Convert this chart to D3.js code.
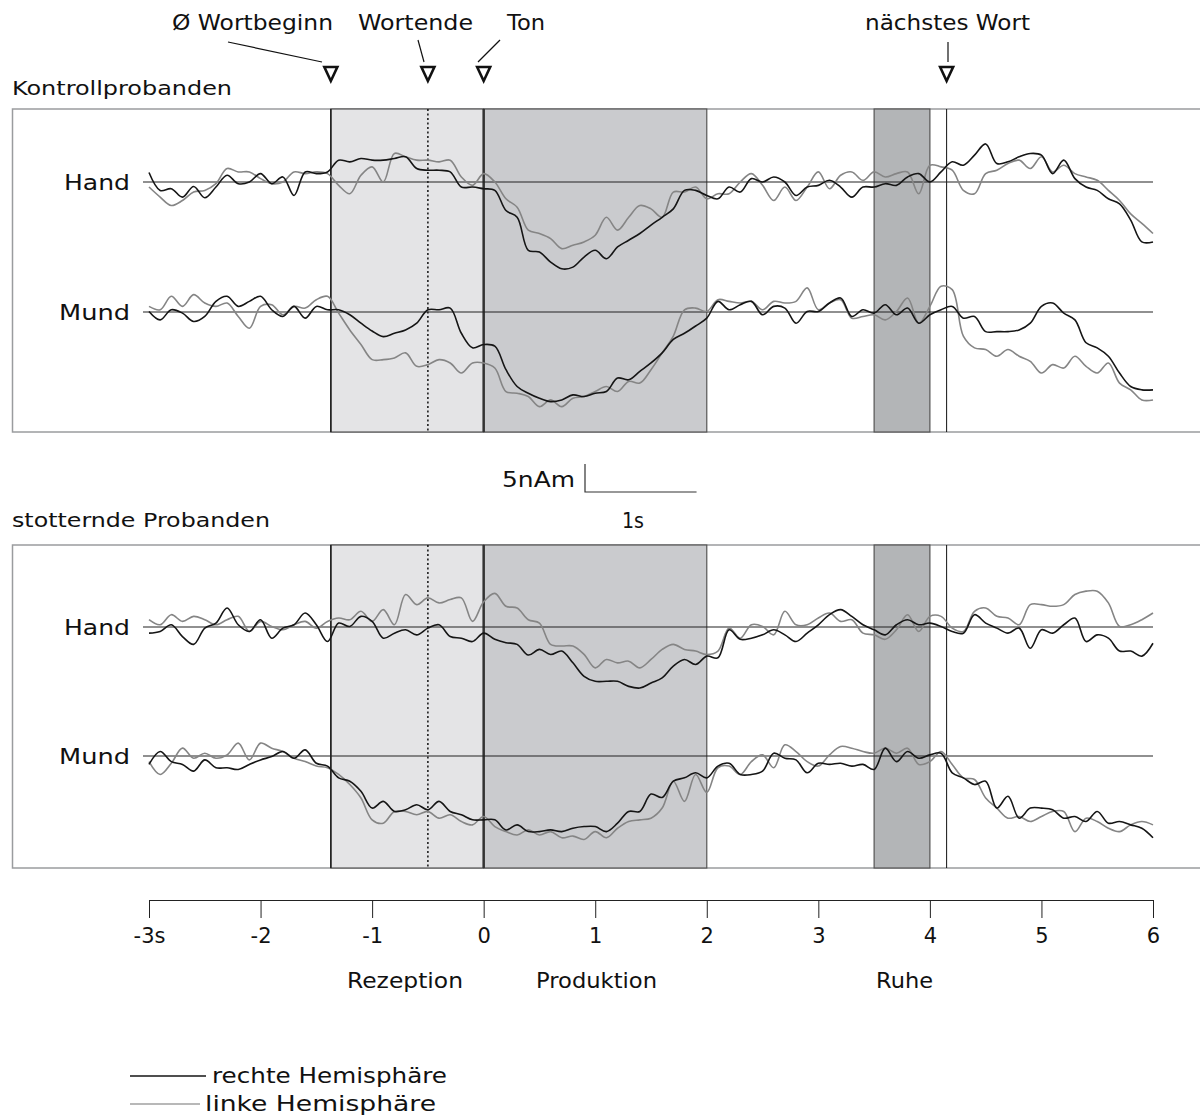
<!DOCTYPE html>
<html>
<head>
<meta charset="utf-8">
<script src="https://cdn.jsdelivr.net/npm/d3@7"></script>
<style>
  body { margin: 0; background: #fff; }
  text { font-family: "DejaVu Sans", sans-serif; fill: #111; }
</style>
</head>
<body>
<div id="chart"></div>
<script>
// sampled every 0.1 s from -3 s to 6 s, values in nAm relative to baseline
var kHandRight = [1.7,-1.5,-1.2,-2.7,-0.8,-2.8,-0.9,1.2,-0.3,0,1.5,-0.3,0.9,-2.4,1.8,1.5,1.8,3.9,3.6,4.2,3.9,3.9,4.2,4.5,2.4,2.1,2.1,1.8,-0.9,-0.9,
  -1.2,-1.5,-5.1,-6.3,-12.2,-12.5,-14.3,-15.5,-15.2,-13.4,-12.2,-13.7,-11.6,-10.4,-9.2,-7.7,-6.3,-4.8,-1.5,-1.5,-2.4,-3.0,-0.9,-1.8,0.6,0,0.9,0,-2.4,-0.9,-0.6,0.3,-0.9,-2.7,
  -0.9,-0.9,-0.3,-0.6,0.9,1.5,0,1.8,3.6,3.0,4.8,6.8,3.3,3.6,4.5,5.1,4.8,1.5,3.9,0.6,-0.9,-1.5,-3.0,-3.9,-6.8,-10.7,-10.7];
var kHandLeft = [-0.9,-2.7,-4.2,-3.3,-1.8,-1.5,-0.3,2.4,1.8,1.8,0.6,-0.3,0,1.8,1.5,1.8,1.5,-0.6,-2.1,1.2,2.7,0,5.1,4.5,3.9,3.9,3.6,3.9,0.9,-0.6,
  1.5,0,-3.0,-4.5,-8.6,-9.2,-10.1,-11.9,-11.3,-10.7,-9.5,-6.3,-8.6,-6.3,-4.2,-4.8,-6.3,-1.8,-1.8,-0.9,-3.0,-2.1,-2.1,0,1.5,-0.6,-3.3,-0.9,-3.3,-0.9,1.8,-1.2,1.2,1.8,
  0.3,1.8,0.9,1.5,1.8,-2.1,3.0,2.7,2.1,-1.5,-2.1,1.5,2.1,3.3,3.9,2.4,4.5,1.8,3.0,1.5,0.9,0.3,-1.5,-3.3,-5.7,-7.4,-9.2];
var kMundRight = [0.1,-1.4,0.4,-0.2,-1.7,-0.8,1.9,2.8,1.0,1.9,2.8,0.4,-0.8,1.0,-1.1,1.0,0.4,0.4,-0.5,-2.0,-3.4,-4.4,-3.8,-3.2,-2.0,0.4,0.4,0.7,-3.8,-6.4,
  -5.8,-6.1,-10.3,-13.3,-14.5,-15.4,-16.0,-15.7,-14.8,-15.1,-14.5,-14.2,-11.8,-12.1,-10.6,-9.1,-7.3,-4.9,-3.8,-2.5,-1.1,1.9,0.4,1.3,1.9,-0.5,1.0,0.7,-2.0,0.1,0.1,1.6,2.5,-0.8,
  0.4,-0.2,1.3,-0.5,0.7,-2.0,-0.5,0.4,1.0,-1.1,-0.8,-3.5,-3.5,-3.5,-3.2,-2.0,1.0,1.6,-0.2,-1.4,-5.5,-6.4,-7.9,-10.9,-13.3,-13.9,-13.9];
var kMundLeft = [1.0,0.4,2.8,1.0,3.1,1.6,1.0,1.6,-0.8,-2.9,1.0,1.3,-0.5,1.0,0.7,2.2,2.8,-0.2,-3.2,-5.8,-8.5,-8.5,-8.2,-7.3,-9.7,-9.4,-8.5,-9.1,-10.9,-9.1,
  -9.1,-10.0,-14.2,-14.5,-15.1,-16.9,-15.7,-16.9,-15.4,-15.1,-14.2,-13.3,-14.2,-12.4,-12.7,-10.3,-7.3,-4.3,0.4,0.7,0.1,2.2,1.9,1.6,1.9,0.4,1.9,1.6,1.9,4.3,0.4,1.6,2.2,-1.1,
  -0.8,-0.5,-1.4,0.1,2.5,-2.0,1.0,4.6,4.0,-4.3,-6.4,-6.7,-7.9,-6.7,-7.9,-8.8,-10.9,-9.4,-10.0,-7.9,-9.7,-10.9,-9.1,-12.7,-13.9,-15.7,-15.7];

var sHandRight = [-1.1,-0.8,0.4,-1.7,-3.1,-0.2,0.7,3.4,0.4,-0.8,1.3,-2.0,-0.2,0.4,2.5,0.4,-2.6,0.7,0.1,1.9,1.0,-2.0,-1.1,-0.5,-1.4,-0.2,0.4,-1.7,-2.0,-2.6,
  -1.1,-2.2,-2.8,-3.1,-5.0,-4.0,-4.9,-4.3,-6.4,-8.8,-9.7,-9.7,-9.7,-10.6,-10.9,-10.0,-9.1,-7.0,-5.8,-6.7,-5.2,-5.5,-0.5,-2.2,-2.0,-1.4,-0.5,-1.4,-2.6,-1.1,0.4,2.2,3.1,1.9,
  0.4,-0.5,-1.4,0.4,1.3,0.4,0.7,0.1,-0.8,-1.1,2.2,0.7,-0.2,-1.1,-0.2,-3.8,-0.5,-1.1,0.4,1.6,-2.6,-1.4,-2.0,-4.3,-4.3,-5.2,-2.9];
var sHandLeft = [1.3,0.4,2.2,1.0,1.9,1.3,0.4,1.3,1.9,-0.8,1.0,0.1,-0.5,0.4,1.0,-0.2,1.0,1.6,1.3,2.8,1.0,3.1,0.4,5.8,4.0,5.2,4.3,4.9,5.2,1.0,
  4.5,6.0,3.7,3.4,1.3,0.7,-3.1,-3.4,-3.4,-4.9,-7.3,-5.8,-6.4,-6.1,-7.3,-5.8,-4.0,-3.1,-4.0,-4.3,-4.9,-4.3,-0.2,-2.0,0.4,0.1,-1.4,2.8,0.4,0.4,1.6,2.5,1.0,1.3,
  -1.1,-1.4,-2.2,-0.5,2.2,-0.8,1.9,1.9,-0.2,-0.8,2.8,3.4,1.9,1.6,0.4,4.0,4.0,3.7,4.0,5.8,6.4,6.4,4.3,0.1,0.4,1.3,2.5];
var sMundRight = [-1.5,0.8,-1.0,-1.5,-2.7,-0.7,-2.1,-2.1,-2.4,-1.5,-0.7,-0.1,0.8,-0.4,1.1,-1.3,-1.8,-3.9,-4.5,-6.3,-9.3,-8.1,-9.9,-9.6,-8.7,-9.6,-8.1,-9.9,-10.5,-11.4,
  -11.4,-11.4,-13.2,-12.3,-13.5,-13.5,-13.2,-13.5,-12.9,-12.6,-12.6,-13.5,-12.0,-9.9,-9.9,-6.8,-7.4,-4.5,-3.9,-3.0,-3.9,-1.8,-1.3,-3.3,-3.3,-2.7,0.5,-0.4,-0.7,-3.0,-1.3,-1.5,-1.3,-1.8,
  -1.5,-2.4,1.4,-1.0,0.8,-0.4,0.2,0.5,-3.0,-3.9,-5.1,-4.5,-9.3,-7.2,-11.1,-9.3,-9.3,-9.6,-11.1,-10.8,-11.7,-9.9,-12.0,-11.7,-12.3,-12.9,-14.6];
var sMundLeft = [-1.0,-3.3,-1.3,1.4,-0.4,0.5,-0.4,0.2,2.3,-0.7,2.3,1.4,0.8,-0.4,-1.0,-1.8,-2.1,-3.3,-5.1,-7.5,-11.4,-12.0,-9.9,-9.9,-10.5,-9.9,-11.1,-10.5,-11.7,-12.3,
  -10.8,-12.6,-13.5,-14.1,-13.2,-14.1,-13.5,-14.6,-14.3,-14.9,-13.5,-14.6,-12.9,-11.7,-11.4,-11.1,-9.3,-4.5,-8.1,-3.3,-6.5,-2.1,-1.8,-3.3,-1.0,0.2,-2.1,2.0,0.8,-1.0,-1.8,0.2,1.7,1.4,
  0.8,0.5,1.4,0.5,1.4,-1.5,-1.0,0.8,-1.5,-3.9,-4.2,-7.5,-9.3,-11.1,-10.8,-11.7,-10.8,-9.9,-9.9,-13.5,-11.1,-11.7,-12.9,-13.5,-12.3,-11.7,-12.3];

var tickValues = [-3,-2,-1,0,1,2,3,4,5,6];
var tickLabels = ["-3s","-2","-1","0","1","2","3","4","5","6"];
var markerTimes = [-1.37, -0.5, 0, 4.15];
var markerLabels = ["Ø Wortbeginn", "Wortende", "Ton", "nächstes Wort"];
var phaseNames = ["Rezeption", "Produktion", "Ruhe"];
var phaseStart = [-1.37, 0, 3.5];
var phaseEnd = [0, 2, 4];
var phaseFill = ["#e4e4e6", "#cacbce", "#b3b5b7"];

var W = 1200, H = 1118;
var svg = d3.select("#chart").append("svg").attr("width", W).attr("height", H);
var x = d3.scaleLinear().domain([-3, 6]).range([149, 1153]);
var pxPerNAm = 5.6;

// the original typeface is a wide geometric one, stretch text to its width
function label(tx, ty, str, w, anchor, size) {
  var t = svg.append("text").attr("x", tx).attr("y", ty).attr("font-size", size || 21)
    .attr("text-anchor", anchor || "start").text(str);
  if (w) t.attr("textLength", w).attr("lengthAdjust", "spacingAndGlyphs");
  return t;
}

var panels = [
  {title: "Kontrollprobanden", tw: 220, top: 109, bottom: 432, titleY: 95,
   rows: [{label: "Hand", base: 182, right: kHandRight, left: kHandLeft},
          {label: "Mund", base: 312, right: kMundRight, left: kMundLeft}]},
  {title: "stotternde Probanden", tw: 258, top: 545, bottom: 868, titleY: 527,
   rows: [{label: "Hand", base: 627, right: sHandRight, left: sHandLeft},
          {label: "Mund", base: 756, right: sMundRight, left: sMundLeft}]}
];

panels.forEach(function(p) {
  var g = svg.append("g");
  g.append("rect").attr("x", 12.5).attr("y", p.top).attr("width", 1190).attr("height", p.bottom - p.top)
    .attr("fill", "none").attr("stroke", "#9a9c9e").attr("stroke-width", 1.5);

  phaseNames.forEach(function(n, i) {
    g.append("rect").attr("x", x(phaseStart[i])).attr("y", p.top)
      .attr("width", x(phaseEnd[i]) - x(phaseStart[i])).attr("height", p.bottom - p.top)
      .attr("fill", phaseFill[i]).attr("stroke", "#555").attr("stroke-width", 1.2);
  });
  g.append("line").attr("x1", x(-1.37)).attr("x2", x(-1.37)).attr("y1", p.top).attr("y2", p.bottom)
    .attr("stroke", "#222").attr("stroke-width", 1.6);
  g.append("line").attr("x1", x(0)).attr("x2", x(0)).attr("y1", p.top).attr("y2", p.bottom)
    .attr("stroke", "#333").attr("stroke-width", 2.5);
  g.append("line").attr("x1", x(-0.5)).attr("x2", x(-0.5)).attr("y1", p.top).attr("y2", p.bottom)
    .attr("stroke", "#111").attr("stroke-width", 1.5).attr("stroke-dasharray", "2,2.5");
  g.append("line").attr("x1", x(4.15)).attr("x2", x(4.15)).attr("y1", p.top).attr("y2", p.bottom)
    .attr("stroke", "#111").attr("stroke-width", 1);

  label(12, p.titleY, p.title, p.tw, "start", 20);

  p.rows.forEach(function(r) {
    var y = d3.scaleLinear().domain([0, 5]).range([r.base, r.base - 5 * pxPerNAm]);
    var line = d3.line().x(function(d, i) { return x(-3 + i * 0.1); }).y(function(d) { return y(d); })
      .curve(d3.curveCatmullRom.alpha(0.5));
    g.append("line").attr("x1", 143).attr("x2", 1153).attr("y1", y(0)).attr("y2", y(0))
      .attr("stroke", "#222").attr("stroke-width", 1.2);
    g.append("path").datum(r.left).attr("d", line).attr("fill", "none")
      .attr("stroke", "#858585").attr("stroke-width", 1.6);
    g.append("path").datum(r.right).attr("d", line).attr("fill", "none")
      .attr("stroke", "#151515").attr("stroke-width", 1.6);
    label(130, r.base + 8, r.label, r.label == "Hand" ? 66 : 71, "end", 22);
  });
});

// top event markers
var labelX = [172, 358, 507, 865];
var labelW = [161, 115, 38, 165];
var leaders = [[228, 42, 322, 62], [418, 40, 424, 62], [500, 40, 478, 62], [948, 42, 948, 62]];
markerTimes.forEach(function(t, i) {
  var cx = x(t);
  svg.append("path").attr("d", "M" + (cx - 6.5) + ",67 L" + (cx + 6.5) + ",67 L" + cx + ",81 Z")
    .attr("fill", "#fff").attr("stroke", "#111").attr("stroke-width", 2.6).attr("stroke-linejoin", "miter");
  var l = leaders[i];
  svg.append("line").attr("x1", l[0]).attr("y1", l[1]).attr("x2", l[2]).attr("y2", l[3])
    .attr("stroke", "#111").attr("stroke-width", 1.2);
  label(labelX[i], 30, markerLabels[i], labelW[i], "start", 21);
});

// scale bar
label(575, 487, "5nAm", 73, "end", 21);
svg.append("path")
  .attr("d", "M" + x(0) + "," + (492 - 5 * pxPerNAm) + " L" + x(0) + ",492 L" + x(1) + ",492")
  .attr("transform", "translate(" + (585 - x(0)) + ",0)")
  .attr("fill", "none").attr("stroke", "#333").attr("stroke-width", 1.2);
label(633, 528, "1s", 22, "middle", 21);

// time axis
var axis = d3.axisBottom(x).tickValues(tickValues).tickSize(18).tickSizeOuter(0)
  .tickFormat(function(d, i) { return tickLabels[i]; });
var ag = svg.append("g").attr("transform", "translate(0,900)").call(axis);
ag.select(".domain").attr("stroke", "#222").attr("stroke-width", 1.2);
ag.selectAll(".tick line").attr("stroke", "#222").attr("stroke-width", 1);
ag.selectAll(".tick text").attr("font-size", 21).attr("font-family", "DejaVu Sans")
  .attr("fill", "#111").attr("dy", "1.05em");

var phaseLabelX = [347, 536, 876];
var phaseLabelW = [116, 121, 57];
phaseNames.forEach(function(n, i) {
  label(phaseLabelX[i], 988, n, phaseLabelW[i], "start", 21);
});

// legend
var legendNames = ["rechte Hemisphäre", "linke Hemisphäre"];
var legendColors = ["#151515", "#a0a0a0"];
var legendY = [1076, 1104];
var legendLineEnd = [206, 200];
var legendTextX = [212, 205];
var legendTextW = [235, 231];
legendNames.forEach(function(n, i) {
  svg.append("line").attr("x1", 130).attr("x2", legendLineEnd[i]).attr("y1", legendY[i]).attr("y2", legendY[i])
    .attr("stroke", legendColors[i]).attr("stroke-width", 1.3);
  label(legendTextX[i], legendY[i] + 7, n, legendTextW[i], "start", 21);
});
</script>
</body>
</html>
